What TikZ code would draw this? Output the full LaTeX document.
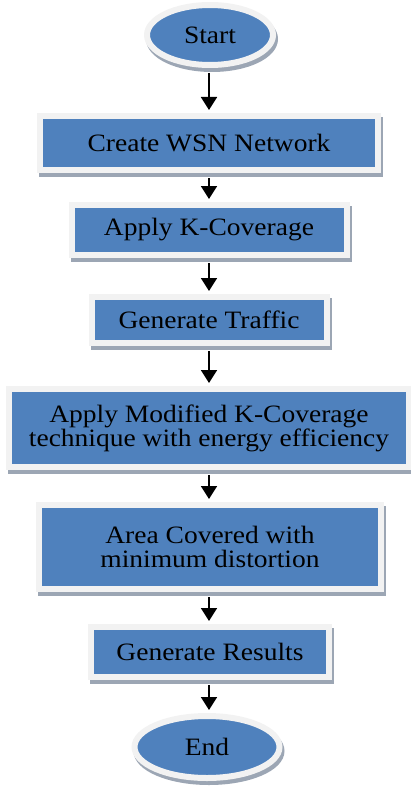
\documentclass[tikz,border=0pt]{standalone}
\usepackage{fontspec}
\setmainfont[FakeStretch=1.1]{Liberation Serif}
\usetikzlibrary{arrows.meta,shapes.geometric,shadows}
\definecolor{boxblue}{HTML}{4F81BD}
\definecolor{framegray}{HTML}{F2F2F2}
\definecolor{shadegray}{HTML}{9CA6B4}
\begin{document}
\begin{tikzpicture}[x=1pt,y=-1pt,
  procbox/.style={rectangle,fill=boxblue,draw=framegray,line width=6pt,align=center,
    font=\fontsize{25}{24}\selectfont,inner sep=0pt,
    drop shadow={shadow xshift=2pt,shadow yshift=-4pt,fill=shadegray,draw=shadegray,line width=6pt,opacity=1}},
  termnode/.style={procbox,ellipse},
  flowarrow/.style={-{Triangle[width=16pt,length=13pt]},line width=1.8pt,shorten <=5pt,shorten >=3pt}]
  \useasboundingbox (0,0) rectangle (411,789);

  \node[termnode,minimum width=126,minimum height=60] (start) at (210,35) {Start};
  \node[procbox,minimum width=338,minimum height=54] (create) at (209,143) {Create WSN Network};
  \node[procbox,minimum width=275,minimum height=50] (kcov) at (209,230) {Apply K-Coverage};
  \node[procbox,minimum width=235,minimum height=46] (traffic) at (209,320) {Generate Traffic};
  \node[procbox,minimum width=400,minimum height=78] (modkcov) at (209,428)
    {Apply Modified K-Coverage\\technique with energy efficiency};
  \node[procbox,minimum width=342,minimum height=84] (area) at (210,547)
    {Area Covered with\\minimum distortion};
  \node[procbox,minimum width=238,minimum height=50] (results) at (210,652) {Generate Results};
  \node[termnode,minimum width=145,minimum height=62] (end) at (207,747) {End};

  % arrows between steps
  \foreach \a/\b in {start/create,create/kcov,kcov/traffic,traffic/modkcov,modkcov/area,area/results,results/end}{
    \draw[flowarrow] (\a.south -| 209,0) -- (\b.north -| 209,0);
  }
\end{tikzpicture}
\end{document}
